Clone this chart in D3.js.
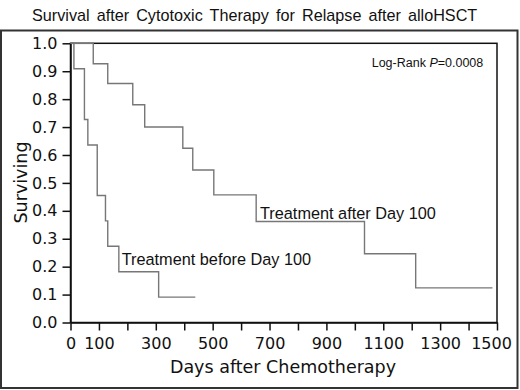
<!DOCTYPE html>
<html><head><meta charset="utf-8">
<script src="https://cdn.jsdelivr.net/npm/d3@7"></script>
<style>body{margin:0;background:#fff}svg{display:block}</style>
</head><body>
<script>
// Data
const beforeDays = [0, 12, 49, 61, 94, 123, 131, 170, 310, 439];
const beforeSurv = [1.0, 0.909, 0.727, 0.636, 0.455, 0.364, 0.273, 0.182, 0.091, 0.091];
const afterDays  = [0, 80, 131, 219, 261, 395, 430, 504, 653, 1034, 1214, 1484];
const afterSurv  = [1.0, 0.927, 0.856, 0.78, 0.70, 0.624, 0.546, 0.457, 0.362, 0.246, 0.124, 0.124];
const xTicks = [0,100,200,300,400,500,600,700,800,900,1000,1100,1200,1300,1400,1500];
const xTickLabels = [0,100,300,500,700,900,1100,1300,1500];
const yTicks = [0,0.1,0.2,0.3,0.4,0.5,0.6,0.7,0.8,0.9,1.0];
const titleText = "Survival after Cytotoxic Therapy for Relapse after alloHSCT";
const pText = "0.0008";
const labelAfter = "Treatment after Day 100";
const labelBefore = "Treatment before Day 100";

const W = 520, H = 390;
const svg = d3.select("body").append("svg").attr("width", W).attr("height", H);

const x = d3.scaleLinear().domain([0, 1500]).range([70.5, 497]);
const y = d3.scaleLinear().domain([0, 1]).range([322.5, 43.3]);

// outer frame
svg.append("rect").attr("x", 1).attr("y", 30.5).attr("width", 516.5).attr("height", 357.5)
  .attr("fill", "none").attr("stroke", "#333").attr("stroke-width", 2);

// title
svg.append("text").attr("x", 32).attr("y", 21)
  .attr("font-family", "Liberation Sans, Arial, sans-serif").attr("font-size", 16.2)
  .attr("word-spacing", 2.6).attr("fill", "#111").text(titleText);

// plot frame
svg.append("rect").attr("x", x(0)).attr("y", y(1)).attr("width", x(1500) - x(0)).attr("height", y(0) - y(1))
  .attr("fill", "none").attr("stroke", "#111").attr("stroke-width", 1.5);

// axes
const yAxis = d3.axisLeft(y).tickValues(yTicks).tickFormat(d3.format(".1f")).tickSize(8).tickSizeOuter(0).tickPadding(5);
const gy = svg.append("g").attr("transform", `translate(${x(0)},0)`).call(yAxis);
const xAxis = d3.axisBottom(x).tickValues(xTicks)
  .tickFormat(d => xTickLabels.includes(d) ? d : "").tickSize(8).tickSizeOuter(0).tickPadding(7);
const gx = svg.append("g").attr("transform", `translate(0,${y(0)})`).call(xAxis);
[gx, gy].forEach(g => {
  g.select(".domain").attr("stroke", "#111").attr("stroke-width", 1.5);
  g.selectAll(".tick line").attr("stroke", "#111").attr("stroke-width", 1.5);
  g.selectAll(".tick text").attr("font-family", "DejaVu Sans, sans-serif").attr("font-size", 16).attr("fill", "#111");
});
gx.selectAll(".tick text").filter(d => d === 1500).attr("dx", -6);

// axis titles
svg.append("text").attr("x", 283).attr("y", 373).attr("text-anchor", "middle")
  .attr("font-family", "DejaVu Sans, sans-serif").attr("font-size", 17.5).attr("fill", "#111")
  .text("Days after Chemotherapy");
svg.append("text").attr("transform", "translate(27,182.5) rotate(-90)").attr("text-anchor", "middle")
  .attr("font-family", "DejaVu Sans, sans-serif").attr("font-size", 17.5).attr("fill", "#111")
  .text("Surviving");

// curves
const line = d3.line().x(d => x(d[0])).y(d => y(d[1])).curve(d3.curveStepAfter);
const series = [d3.zip(beforeDays, beforeSurv), d3.zip(afterDays, afterSurv)];
svg.selectAll("path.km").data(series).join("path").attr("class", "km")
  .attr("d", line).attr("fill", "none").attr("stroke", "#777").attr("stroke-width", 1.4);

// annotations
const lr = svg.append("text").attr("x", 371.7).attr("y", 66.7)
  .attr("font-family", "Liberation Sans, Arial, sans-serif").attr("font-size", 12.5).attr("fill", "#111");
lr.append("tspan").text("Log-Rank ");
lr.append("tspan").attr("font-style", "italic").text("P");
lr.append("tspan").text("=" + pText);

svg.append("text").attr("x", 260).attr("y", 218.5)
  .attr("font-family", "Liberation Sans, Arial, sans-serif").attr("font-size", 16.3).attr("fill", "#111")
  .text(labelAfter);
svg.append("text").attr("x", 121.7).attr("y", 265)
  .attr("font-family", "Liberation Sans, Arial, sans-serif").attr("font-size", 16.3).attr("fill", "#111")
  .text(labelBefore);
</script>
</body></html>
